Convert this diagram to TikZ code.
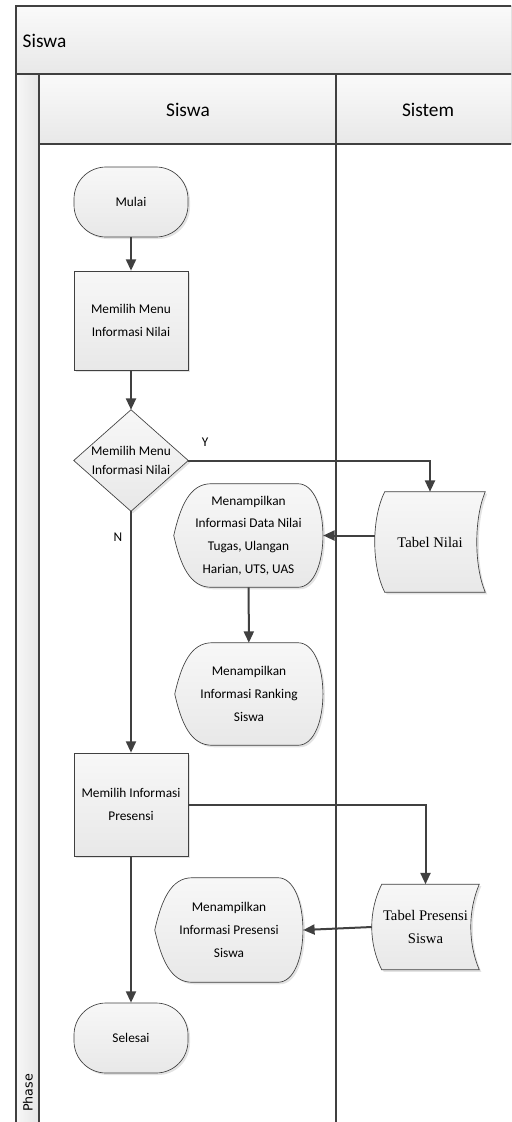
\documentclass[tikz,border=0pt]{standalone}
\usepackage{fontspec}
\setmainfont{Carlito}
\newfontfamily\tabelfont{Liberation Serif}
\newfontfamily\phasefont{DejaVu Sans}
\usepackage{xcolor}
\usepackage{tikz}
\usetikzlibrary{shapes,shadows,arrows.meta,calc,backgrounds}

\definecolor{lineGray}{HTML}{404040}

\begin{document}
\begin{tikzpicture}[x=0.75pt, y=-0.75pt,
        flowline/.style={draw=lineGray, line width=1.5pt, -{Triangle[length=8.5pt,width=7.5pt]}},
        shapebox/.style={draw=lineGray, line width=0.5pt, top color=white!97!black, bottom color=black!9,
                drop shadow={shadow xshift=1.5pt, shadow yshift=-1.5pt, opacity=0.22}},
        terminal/.style={shapebox, rectangle, rounded corners=24pt,
                minimum width=85.5pt, minimum height=52.5pt, font=\fontsize{10}{17}\selectfont},
        process/.style={shapebox, rectangle, align=center,
                minimum width=85.5pt, font=\fontsize{10}{17}\selectfont},
        plaintext/.style={inner sep=0pt, align=center, font=\fontsize{10}{17}\selectfont},
        tabeltext/.style={inner sep=0pt, align=center, font=\tabelfont\fontsize{11}{17}\selectfont},
        lanetext/.style={font=\fontsize{14.5}{16}\selectfont}
    ]
        \useasboundingbox (0,0) rectangle (511,1122);
        \clip (0,0) rectangle (511,1122);

        % pool and lanes
        \fill[top color=white!98!black, bottom color=black!9] (16,6) rectangle (522,74);
        \fill[top color=white!98!black, bottom color=black!9] (39,74) rectangle (522,144);
        \fill[left color=white!97!black, right color=black!10] (16,74) rectangle (39,1130);
        \draw[lineGray, line width=1.3pt] (522,6) -- (16,6) -- (16,1130);
        \draw[lineGray, line width=1.5pt] (16,74) -- (522,74);
        \draw[lineGray, line width=1.1pt] (39,74) -- (39,1130);
        \draw[lineGray, line width=1.2pt] (39,144) -- (522,144);
        \draw[lineGray, line width=0.8pt] (336,74) -- (336,1130);

        \node[lanetext, anchor=west] (pool) at (18,41) {Siswa};
        \node[lanetext] (laneSiswa) at (188,110) {Siswa};
        \node[lanetext] (laneSistem) at (428,110) {Sistem};
        \node[rotate=90, font=\phasefont\fontsize{9.5}{10}\selectfont] (phase) at (28,1093) {Phase};

        % Function to draw a decision
        \newcommand{\drawDecision}[1]{
            \begin{scope}[on background layer]
                \path[shapebox] (#1.north) -- (#1.east) -- (#1.south) -- (#1.west) -- cycle;
            \end{scope}
        }

        % Function to draw a display
        \newcommand{\drawDisplay}[1]{
            \begin{scope}[on background layer]
                \path[shapebox] (#1.west)
                    .. controls ($(#1.west)+(5pt,22pt)$) and ($(#1.north west)+(12pt,0)$) .. ($(#1.north west)+(28pt,0)$)
                    -- ($(#1.north east)+(-19pt,0)$)
                    .. controls ($(#1.north east)+(6pt,0)$) and ($(#1.south east)+(6pt,0)$) .. ($(#1.south east)+(-19pt,0)$)
                    -- ($(#1.south west)+(28pt,0)$)
                    .. controls ($(#1.south west)+(12pt,0)$) and ($(#1.west)+(5pt,-22pt)$) .. (#1.west) -- cycle;
            \end{scope}
        }

        % Function to draw a stored data table
        \newcommand{\drawStored}[1]{
            \begin{scope}[on background layer]
                \path[shapebox] ($(#1.north west)+(7.5pt,0)$) -- (#1.north east)
                    .. controls ($(#1.north east)+(-8.5pt,-20pt)$) and ($(#1.south east)+(-8.5pt,20pt)$) .. (#1.south east)
                    -- ($(#1.south west)+(7.5pt,0)$)
                    .. controls ($(#1.south west)+(-2.5pt,20pt)$) and ($(#1.north west)+(-2.5pt,-20pt)$) .. ($(#1.north west)+(7.5pt,0)$) -- cycle;
            \end{scope}
        }

        % Siswa lane
        \node[terminal] (mulai) at (131,202) {Mulai};
        \node[process, minimum height=74.25pt] (pilihNilai) at (131,320.5) {Memilih Menu\\Informasi Nilai};
        \node[plaintext, minimum width=85.5pt, minimum height=75.75pt,
              font=\fontsize{10}{14.5}\selectfont] (cekNilai) at (131,460.5) {Memilih Menu\\Informasi Nilai};
        \drawDecision{cekNilai}
        \node[plaintext, minimum width=111.75pt, minimum height=77.25pt] (infoNilai) at (248.5,535.5)
            {Menampilkan\\Informasi Data Nilai\\Tugas, Ulangan\\Harian, UTS, UAS};
        \drawDisplay{infoNilai}
        \node[plaintext, minimum width=111pt, minimum height=76.5pt] (infoRanking) at (249,694)
            {Menampilkan\\Informasi Ranking\\Siswa};
        \drawDisplay{infoRanking}
        \node[process, minimum height=77.25pt] (pilihPresensi) at (131,804.5) {Memilih Informasi\\Presensi};
        \node[plaintext, minimum width=111pt, minimum height=78pt] (infoPresensi) at (229,930)
            {Menampilkan\\Informasi Presensi\\Siswa};
        \drawDisplay{infoPresensi}
        \node[terminal] (selesai) at (131,1038) {Selesai};

        % Sistem lane
        \node[tabeltext, minimum width=82.5pt, minimum height=75pt] (tabelNilai) at (430,542) {Tabel Nilai};
        \drawStored{tabelNilai}
        \node[tabeltext, minimum width=80.25pt, minimum height=63.75pt] (tabelPresensi) at (425.5,927)
            {Tabel Presensi\\Siswa};
        \drawStored{tabelPresensi}

        % flow
        \draw[flowline] (mulai) -- (pilihNilai);
        \draw[flowline] (pilihNilai) -- (cekNilai.north);
        \draw[flowline] (cekNilai.east) -| (tabelNilai.north);
        \draw[flowline] (tabelNilai.west |- infoNilai.east) -- (infoNilai.east);
        \draw[flowline] (infoNilai) -- (infoRanking);
        \draw[flowline] (cekNilai.south) -- (pilihPresensi);
        \draw[flowline] (pilihPresensi.east) -| (tabelPresensi.north);
        \draw[flowline] (tabelPresensi.west) -- (infoPresensi.east);
        \draw[flowline] (pilihPresensi) -- (selesai);

        \node[plaintext] (yLabel) at (205,442) {Y};
        \node[plaintext] (nLabel) at (118,537) {N};
    \end{tikzpicture}
\end{document}
